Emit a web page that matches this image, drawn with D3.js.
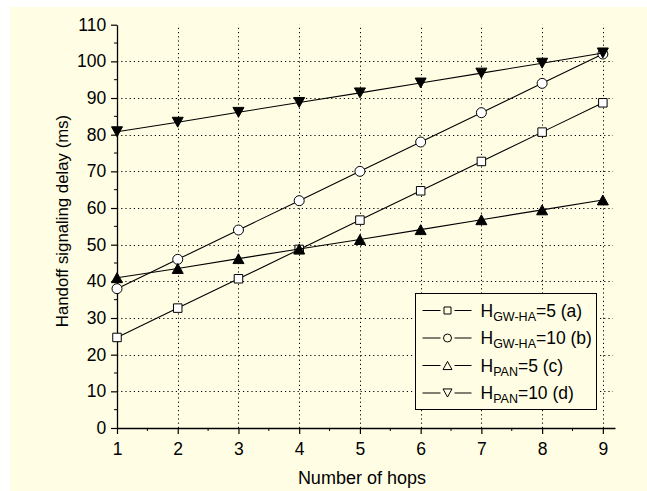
<!DOCTYPE html>
<html>
<head>
<meta charset="utf-8">
<script src="https://cdn.jsdelivr.net/npm/d3@7"></script>
<style>
	body { margin: 0; background: #fff; }
	text { font-family: 'Liberation Sans', Arial, sans-serif; fill: #000; }
</style>
</head>
<body>
<div id="chart"></div>
<script>
const width = 647;
const height = 491;

// data
const hops = [1, 2, 3, 4, 5, 6, 7, 8, 9];
const delayGwHa5 = [24.7, 32.7, 40.7, 48.7, 56.7, 64.7, 72.7, 80.7, 88.7];
const delayGwHa10 = [38, 46, 54, 62, 70, 78, 86, 94, 102];
const delayPan5 = [41, 43.5, 46.2, 48.8, 51.4, 54.1, 56.8, 59.5, 62.2];
const delayPan10 = [80.8, 83.4, 86.1, 88.8, 91.4, 94.1, 96.8, 99.5, 102.3];
const yTicks = [0, 10, 20, 30, 40, 50, 60, 70, 80, 90, 100, 110];
const seriesLabels = [
	['H', 'GW-HA', '=5 (a)'],
	['H', 'GW-HA', '=10 (b)'],
	['H', 'PAN', '=5 (c)'],
	['H', 'PAN', '=10 (d)'],
];

const series = [
	{ values: delayGwHa5, shape: 'square', fill: '#fff' },
	{ values: delayGwHa10, shape: 'circle', fill: '#fff' },
	{ values: delayPan5, shape: 'up', fill: '#000' },
	{ values: delayPan10, shape: 'down', fill: '#000' },
];

const bg = '#fffee4';

const svg = d3.select('#chart').append('svg').attr('width', width).attr('height', height);

svg.append('rect').attr('x', 10).attr('y', 7).attr('width', width - 10).attr('height', height - 7).attr('fill', bg);

const x = d3.scaleLinear().domain([1, 9.2]).range([117, 615]);
const y = d3.scaleLinear().domain([0, 110]).range([428, 24.7]);

// grid ==========================================================
const grid = svg.append('g').attr('stroke', '#000').attr('stroke-width', 1).attr('stroke-dasharray', '1.2,3');
grid.selectAll('line.v')
	.data(hops.slice(1))
	.join('line')
	.attr('x1', (d) => Math.round(x(d)) + 0.5)
	.attr('x2', (d) => Math.round(x(d)) + 0.5)
	.attr('y1', y(0))
	.attr('y2', y(110));
grid.selectAll('line.h')
	.data(yTicks.slice(1, -1))
	.join('line')
	.attr('class', 'h')
	.attr('y1', (d) => Math.round(y(d)) + 0.5)
	.attr('y2', (d) => Math.round(y(d)) + 0.5)
	.attr('x1', x(1))
	.attr('x2', x(9.2) - 2);

// axes ==========================================================
const xAxis = svg.append('g').attr('transform', `translate(0,${y(0)})`)
	.call(d3.axisBottom(x).tickValues(hops).tickFormat(d3.format('d')).tickSize(6).tickSizeOuter(0));
xAxis.append('g')
	.selectAll('line')
	.data(d3.range(1.5, 9, 1))
	.join('line')
	.attr('x1', (d) => x(d))
	.attr('x2', (d) => x(d))
	.attr('y2', 3)
	.attr('stroke', '#000');

const yAxis = svg.append('g').attr('transform', `translate(${x(1)},0)`)
	.call(d3.axisLeft(y).tickValues(yTicks).tickSize(6).tickSizeOuter(0));
yAxis.append('g')
	.selectAll('line')
	.data(d3.range(5, 110, 10))
	.join('line')
	.attr('y1', (d) => y(d))
	.attr('y2', (d) => y(d))
	.attr('x2', -3)
	.attr('stroke', '#000');

svg.selectAll('.domain').attr('stroke', '#000').attr('stroke-width', 1.3);
svg.selectAll('.tick line').attr('stroke', '#000').attr('stroke-width', 1.2);
xAxis.selectAll('.tick text').attr('dy', '1.0em').style('font-size', '17.5px');
yAxis.selectAll('.tick text').attr('dx', '-0.1em').style('font-size', '17.5px');

svg.append('text')
	.attr('x', (x(1) + x(9)) / 2 + 2)
	.attr('y', 484)
	.attr('text-anchor', 'middle')
	.style('font-size', '18px')
	.text('Number of hops');

svg.append('text')
	.attr('transform', `translate(68,221) rotate(-90)`)
	.attr('text-anchor', 'middle')
	.style('font-size', '16.8px')
	.text('Handoff signaling delay (ms)');

// markers =======================================================
function markerPath(shape, s) {
	if (shape === 'square') return d3.symbol().type(d3.symbolSquare).size(s * s)();
	if (shape === 'circle') return d3.symbol().type(d3.symbolCircle).size(Math.PI * (s / 2) * (s / 2))();
	const h = s * 0.9;
	const w = s / 2;
	if (shape === 'up') return `M0,${-h / 2}L${w},${h / 2}L${-w},${h / 2}Z`;
	return `M0,${h / 2}L${w},${-h / 2}L${-w},${-h / 2}Z`;
}

const line = d3.line()
	.x((d, i) => x(hops[i]))
	.y((d) => y(d));

const plot = svg.append('g');
series.forEach((s) => {
	plot.append('path')
		.attr('d', line(s.values))
		.attr('fill', 'none')
		.attr('stroke', '#000')
		.attr('stroke-width', 1.1);
	plot.selectAll(null)
		.data(s.values)
		.join('path')
		.attr('transform', (d, i) => `translate(${x(hops[i])},${y(d)})`)
		.attr('d', markerPath(s.shape, s.shape === 'circle' ? 10 : s.shape === 'square' ? 8.5 : 11))
		.attr('fill', s.fill)
		.attr('stroke', '#000')
		.attr('stroke-width', 1);
});

// legend ========================================================
const legend = svg.append('g').attr('transform', 'translate(415.5,293.5)');
legend.append('rect').attr('width', 181).attr('height', 116).attr('fill', bg).attr('stroke', '#000').attr('stroke-width', 1);

series.forEach((s, i) => {
	const row = legend.append('g').attr('transform', `translate(0,${17 + i * 27.5})`);
	row.append('line').attr('x1', 7).attr('x2', 25).attr('stroke', '#000');
	row.append('line').attr('x1', 39).attr('x2', 56).attr('stroke', '#000');
	row.append('path')
		.attr('transform', 'translate(32,0)')
		.attr('d', markerPath(s.shape, s.shape === 'circle' ? 8 : s.shape === 'square' ? 7 : 9))
		.attr('fill', 'none')
		.attr('stroke', '#000');
	const t = row.append('text').attr('x', 65).attr('y', 6).style('font-size', '17.5px');
	t.append('tspan').text(seriesLabels[i][0]);
	t.append('tspan').attr('dy', 4).style('font-size', '12.5px').text(seriesLabels[i][1]);
	t.append('tspan').attr('dy', -4).text(seriesLabels[i][2]);
});
</script>
</body>
</html>
